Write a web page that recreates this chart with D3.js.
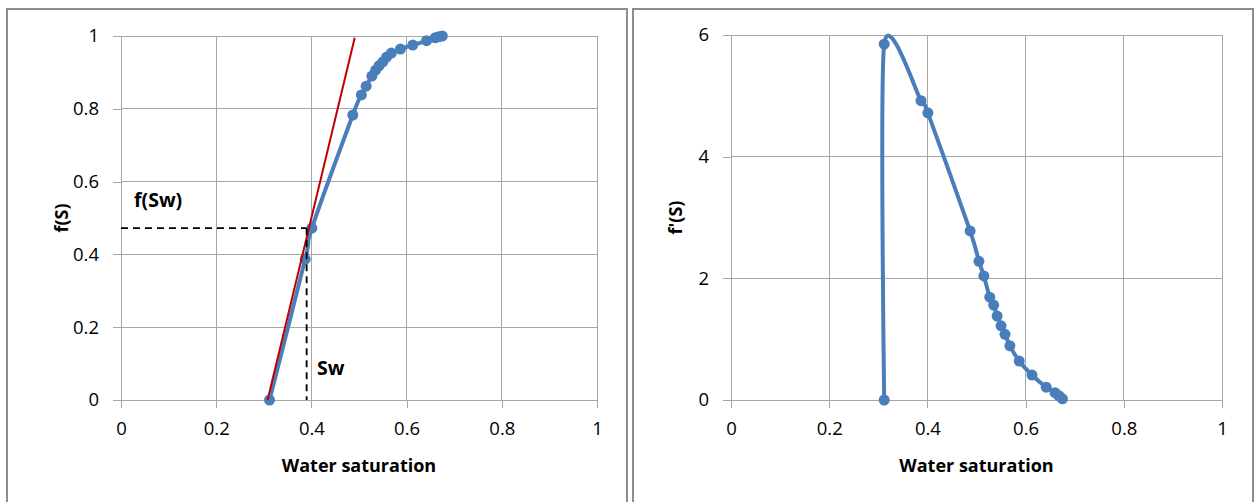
<!DOCTYPE html>
<html><head><meta charset="utf-8">
<script src="https://cdn.jsdelivr.net/npm/d3@7"></script>
<style>
body{margin:0;background:#fff;}
svg text{font-family:"Open Sans","Liberation Sans",sans-serif;fill:#000;}
</style></head><body>
<svg id="c" width="1255" height="502"></svg>
<script>
const sw = [0.312,0.387,0.401,0.487,0.505,0.515,0.527,0.535,0.542,0.55,0.558,0.568,0.587,0.613,0.642,0.66,0.668,0.675];
const fs = [0,0.387,0.472,0.783,0.838,0.862,0.89,0.906,0.918,0.929,0.942,0.953,0.964,0.975,0.987,0.995,0.998,1.0];
const dfs = [0,5.85,4.92,4.72,2.78,2.28,2.04,1.69,1.56,1.38,1.22,1.08,0.89,0.64,0.41,0.21,0.12,0.07,0.02];
const swD = [0.312,0.312,0.387,0.401,0.487,0.505,0.515,0.527,0.535,0.542,0.55,0.558,0.568,0.587,0.613,0.642,0.66,0.668,0.675];
const tangentX = [0.308,0.491];
const tangentY = [0,0.995];
const swPoint = 0.39, fswPoint = 0.472;
const xTicks = [0,0.2,0.4,0.6,0.8,1];
const yTicksL = [0,0.2,0.4,0.6,0.8,1];
const yTicksR = [0,2,4,6];

const svg = d3.select("#c");
const blue = "#4a7ebb";
const grid = "#a6a6a6";

svg.append("path").attr("d","M7,503 V9 H627 V503").attr("fill","none").attr("stroke","#8c8c8c").attr("stroke-width",2);
svg.append("path").attr("d","M633,503 V9 H1253 V503").attr("fill","none").attr("stroke","#8c8c8c").attr("stroke-width",2);

function panel(x0,x1,y0,y1,yDomain,yTicks,ylabel,ylabX,fmtY){
  const x = d3.scaleLinear().domain([0,1]).range([x0,x1]);
  const y = d3.scaleLinear().domain(yDomain).range([y1,y0]);
  const g = svg.append("g");
  g.selectAll(".vg").data(xTicks.slice(1)).join("line")
    .attr("x1",d=>x(d)).attr("x2",d=>x(d)).attr("y1",y0).attr("y2",y1)
    .attr("stroke",grid).attr("stroke-width",1).attr("shape-rendering","crispEdges");
  g.selectAll(".hg").data(yTicks.slice(1)).join("line")
    .attr("x1",x0).attr("x2",x1).attr("y1",d=>y(d)).attr("y2",d=>y(d))
    .attr("stroke",grid).attr("stroke-width",1).attr("shape-rendering","crispEdges");
  const xa = g.append("g").attr("transform",`translate(0,${y1})`)
    .call(d3.axisBottom(x).tickValues(xTicks).tickSize(8).tickPadding(14).tickFormat(d=>d===0||d===1?d:d3.format(".1f")(d)));
  const ya = g.append("g").attr("transform",`translate(${x0},0)`)
    .call(d3.axisLeft(y).tickValues(yTicks).tickSize(8).tickPadding(14).tickFormat(fmtY));
  [xa,ya].forEach(a=>{
    a.attr("font-size",null).attr("font-family",null);
    a.select(".domain").attr("stroke",grid).attr("shape-rendering","crispEdges");
    a.selectAll(".tick line").attr("stroke",grid).attr("shape-rendering","crispEdges");
    a.selectAll("text").style("font-size","18.5px").style("font-family","Open Sans, sans-serif");
  });
  g.append("text").attr("x",(x0+x1)/2).attr("y",472).attr("text-anchor","middle")
    .style("font-size","18px").attr("font-weight","bold").text("Water saturation");
  g.append("text").attr("transform",`translate(${ylabX},${(y0+y1)/2}) rotate(-90)`).attr("text-anchor","middle")
    .style("font-size","18px").attr("font-weight","bold").text(ylabel);
  return {x,y,g};
}

const L = panel(121,597,36,400,[0,1],yTicksL,"f(S)",68,d=>d===0||d===1?d:d3.format(".1f")(d));
const lineL = d3.line().curve(d3.curveCardinal.tension(0));
const lineR = d3.line().curve(d3.curveCardinal.tension(0.3));
const ptsL = sw.map((s,i)=>[L.x(s),L.y(fs[i])]);
L.g.append("path").attr("d",lineL(ptsL)).attr("fill","none").attr("stroke",blue).attr("stroke-width",4);
L.g.selectAll(".pt").data(ptsL).join("circle").attr("cx",d=>d[0]).attr("cy",d=>d[1]).attr("r",5.5).attr("fill",blue);
L.g.append("line").attr("x1",L.x(tangentX[0])).attr("y1",L.y(tangentY[0])).attr("x2",L.x(tangentX[1])).attr("y2",L.y(tangentY[1]))
  .attr("stroke","#c00000").attr("stroke-width",2);
L.g.append("line").attr("x1",L.x(0)).attr("x2",L.x(swPoint)).attr("y1",L.y(fswPoint)).attr("y2",L.y(fswPoint))
  .attr("stroke","#000").attr("stroke-width",1.8).attr("stroke-dasharray","7,5");
L.g.append("line").attr("x1",L.x(swPoint)).attr("x2",L.x(swPoint)).attr("y1",L.y(fswPoint)).attr("y2",L.y(0))
  .attr("stroke","#000").attr("stroke-width",1.8).attr("stroke-dasharray","7,5");
L.g.append("text").attr("x",134).attr("y",207).style("font-size","19.5px").attr("font-weight","bold").text("f(Sw)");
L.g.append("text").attr("x",317).attr("y",375).style("font-size","19.5px").attr("font-weight","bold").text("Sw");

const R = panel(731,1222,35,400,[0,6],yTicksR,"f'(S)",682,d=>d);
const ptsR = swD.map((s,i)=>[R.x(s),R.y(dfs[i])]);
R.g.append("path").attr("d",lineR(ptsR)).attr("fill","none").attr("stroke",blue).attr("stroke-width",4);
R.g.selectAll(".pt").data(ptsR).join("circle").attr("cx",d=>d[0]).attr("cy",d=>d[1]).attr("r",5.5).attr("fill",blue);
</script></body></html>
